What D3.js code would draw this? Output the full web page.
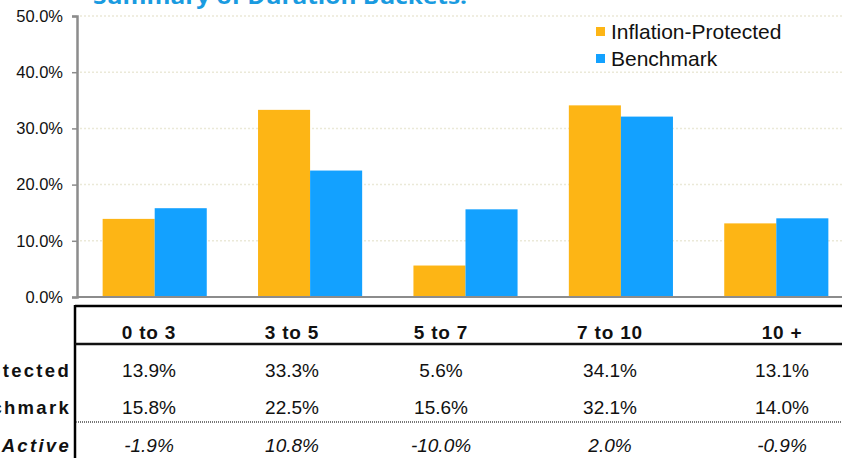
<!DOCTYPE html>
<html>
<head>
<meta charset="utf-8">
<script src="https://cdn.jsdelivr.net/npm/d3@7"></script>
<style>
  body { margin: 0; background: #fff; }
  svg { display: block; font-family: "Liberation Sans", Arial, sans-serif; }
</style>
</head>
<body>
<div id="chart-area"></div>
<script>
// data
var categories = ["0 to 3", "3 to 5", "5 to 7", "7 to 10", "10 +"];
var inflation = [13.9, 33.3, 5.6, 34.1, 13.1];
var benchmark = [15.8, 22.5, 15.6, 32.1, 14.0];
var active = [-1.9, 10.8, -10.0, 2.0, -0.9];
var seriesNames = ["Inflation-Protected", "Benchmark"];
var rowLabels = ["Inflation-Protected", "Benchmark", "Active"];
var yTicks = [0, 10, 20, 30, 40, 50];

var W = 842, H = 458;
var colors = ["#FDB515", "#13A1FF"];

var svg = d3.select("#chart-area").append("svg")
            .attr("width", W)
            .attr("height", H);

var y = d3.scaleLinear()
          .domain([0, 50])
          .range([297, 16]);

var x = d3.scaleBand()
          .domain(categories)
          .range([77, 854])
          .paddingInner(0.33)
          .paddingOuter(0.165);

var xs = d3.scaleBand()
           .domain(d3.range(2))
           .range([0, x.bandwidth()]);

// gridlines
svg.append("g").selectAll("line")
   .data(yTicks.filter((d) => d > 0))
   .enter().append("line")
     .attr("x1", 80).attr("x2", W)
     .attr("y1", (d) => y(d)).attr("y2", (d) => y(d))
     .attr("stroke", "#ebe9d8")
     .attr("stroke-width", 1.5)
     .attr("stroke-dasharray", "2,2");

// title (cut off at top)
svg.append("text")
   .attr("x", 93).attr("y", 4)
   .attr("font-family", "'Open Sans', sans-serif")
   .attr("font-weight", "bold")
   .attr("font-size", 22)
   .attr("fill", "#1a9be0")
   .attr("textLength", 374)
   .attr("lengthAdjust", "spacingAndGlyphs")
   .text("Summary of Duration Buckets:");

// bars
var groups = svg.append("g").selectAll("g")
   .data(categories)
   .enter().append("g")
     .attr("transform", (d) => "translate(" + x(d) + ",0)");

groups.selectAll("rect")
   .data((d, i) => [inflation[i], benchmark[i]])
   .enter().append("rect")
     .attr("x", (d, j) => xs(j))
     .attr("y", (d) => y(d))
     .attr("width", xs.bandwidth())
     .attr("height", (d) => y(0) - y(d))
     .attr("fill", (d, j) => colors[j]);

// y axis
var yAxis = d3.axisLeft(y)
              .tickValues(yTicks)
              .tickFormat((d) => d.toFixed(1) + "%")
              .tickSize(5)
              .tickPadding(9);

var gy = svg.append("g")
   .attr("transform", "translate(77,0)")
   .call(yAxis);
gy.select(".domain").attr("stroke", "#8c8c8c").attr("stroke-width", 2.5);
gy.selectAll(".tick line").attr("stroke", "#8c8c8c").attr("stroke-width", 1.5);
gy.selectAll("text")
  .attr("font-size", 16.5)
  .attr("fill", "#111")
  .attr("font-family", "'Liberation Sans', Arial, sans-serif");

// baseline
svg.append("line")
   .attr("x1", 77).attr("x2", W)
   .attr("y1", y(0)).attr("y2", y(0))
   .attr("stroke", "#8c8c8c")
   .attr("stroke-width", 2);

// legend
var legend = svg.append("g").selectAll("g")
   .data(seriesNames)
   .enter().append("g")
     .attr("transform", (d, i) => "translate(596," + (27 + i * 27) + ")");
legend.append("rect")
   .attr("width", 9).attr("height", 9)
   .attr("fill", (d, i) => colors[i]);
legend.append("text")
   .attr("x", 15).attr("y", 12)
   .attr("font-size", 21)
   .attr("fill", "#111")
   .text((d) => d);

// table
var colCenters = [149, 292, 441, 610, 782];
var rowBase = [377, 414, 452];
var rows = [inflation, benchmark, active];

var table = svg.append("g");
table.append("line")
     .attr("x1", 75).attr("x2", W).attr("y1", 306).attr("y2", 306)
     .attr("stroke", "#000").attr("stroke-width", 2.5);
table.append("line")
     .attr("x1", 75).attr("x2", 75).attr("y1", 305).attr("y2", H)
     .attr("stroke", "#000").attr("stroke-width", 2.5);
table.append("line")
     .attr("x1", 75).attr("x2", W).attr("y1", 344).attr("y2", 344)
     .attr("stroke", "#111").attr("stroke-width", 2.5);
table.append("line")
     .attr("x1", 76).attr("x2", W).attr("y1", 422).attr("y2", 422)
     .attr("stroke", "#777").attr("stroke-width", 2)
     .attr("stroke-dasharray", "1,1");

table.selectAll(".head")
     .data(categories)
     .enter().append("text")
       .attr("class", "head")
       .attr("x", (d, i) => colCenters[i])
       .attr("y", 339)
       .attr("text-anchor", "middle")
       .attr("font-size", 19)
       .attr("font-weight", "bold")
       .attr("letter-spacing", 0.8)
       .attr("fill", "#111")
       .text((d) => d);

rows.forEach((vals, r) => {
  table.selectAll(".row" + r)
       .data(vals)
       .enter().append("text")
         .attr("class", "row" + r)
         .attr("x", (d, i) => colCenters[i])
         .attr("y", rowBase[r])
         .attr("text-anchor", "middle")
         .attr("font-size", 19)
         .attr("font-style", r == 2 ? "italic" : "normal")
         .attr("fill", "#111")
         .text((d) => d.toFixed(1) + "%");
});

table.selectAll(".rlab")
     .data(rowLabels)
     .enter().append("text")
       .attr("class", "rlab")
       .attr("x", 71)
       .attr("y", (d, i) => rowBase[i])
       .attr("text-anchor", "end")
       .attr("font-size", 18.5)
       .attr("font-weight", "bold")
       .attr("font-style", (d, i) => i == 2 ? "italic" : "normal")
       .attr("letter-spacing", 2.3)
       .attr("fill", "#111")
       .text((d) => d);
</script>
</body>
</html>
